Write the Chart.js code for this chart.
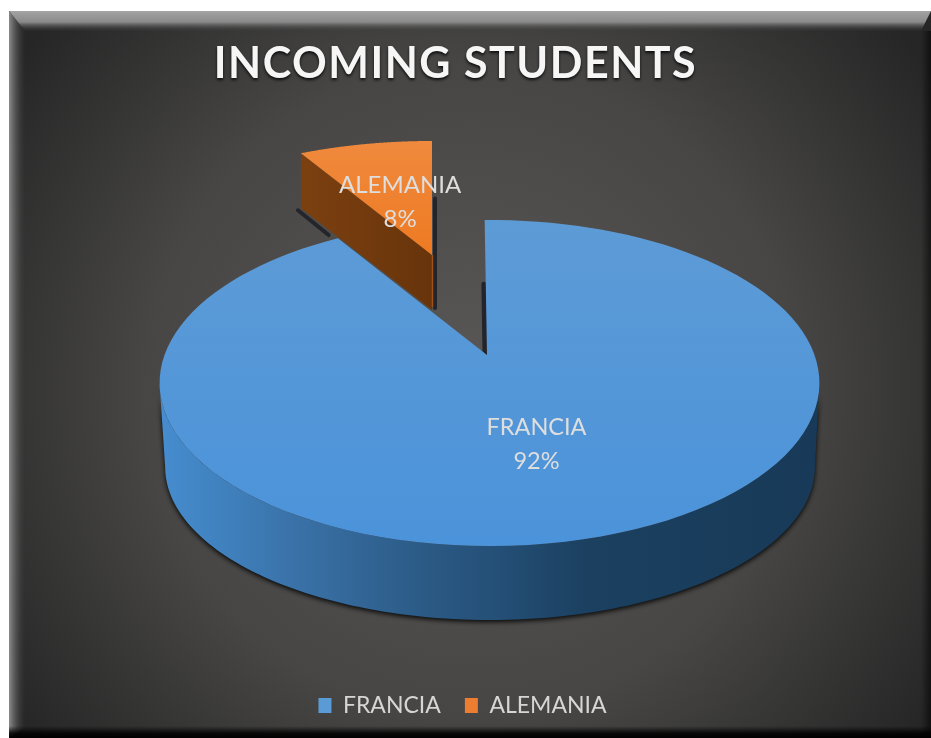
<!DOCTYPE html>
<html>
<head>
<meta charset="utf-8">
<style>
html,body{margin:0;padding:0;background:#fff;}
canvas{display:block;filter:blur(0.6px);}
</style>
<script src="https://cdn.jsdelivr.net/npm/chart.js@4/dist/chart.umd.min.js"></script>
</head>
<body>
<canvas id="c" width="931" height="738"></canvas>
<script>
const titleText = 'INCOMING STUDENTS';
const categories = ['FRANCIA', 'ALEMANIA'];
const shares = [92, 8];
const sliceColors = ['#5b9bd5', '#ed7d31'];

// View of the disc: perspective from the unit circle to the screen.
const tilt = 0.1718;
const faceView = {x0: 489.5, y0: 355, a: 325, b: 158.2, k: tilt};
const floorView = {x0: 490, y0: 440.7, a: 320, b: 148.5, k: tilt};
const apexFrancia = [487, 355];
const explodedView = {x0: 432, y0: 255, a: 313, b: 133.6, k: tilt};
const explodedDepth = 55;
const labelRadius = [0.53, 0.44];
const viewStart = -1 * Math.PI / 180;
const viewFactor = 0.9925;

function project(theta, r, P) {
  const u = r * Math.sin(theta), v = -r * Math.cos(theta), d = 1 - P.k * v;
  return [P.x0 + P.a * u / d, P.y0 + P.b * v / d];
}
function rimPath(ctx, t0, t1, P, first, dy) {
  const n = 120;
  for (let i = 0; i <= n; i++) {
    const p = project(t0 + (t1 - t0) * i / n, 1, P);
    if (i === 0 && first) ctx.moveTo(p[0], p[1] + (dy || 0));
    else ctx.lineTo(p[0], p[1] + (dy || 0));
  }
}

class PerspectiveArc extends Chart.ArcElement {
  draw(ctx) {
    const idx = this.$context.dataIndex;
    const t0 = this.startAngle + Math.PI / 2;
    const t1 = this.endAngle + Math.PI / 2;
    ctx.save();
    if (idx === 0) {
      const w0 = 100 * Math.PI / 180, w1 = 260 * Math.PI / 180;
      const g = ctx.createLinearGradient(163, 0, 817, 0);
      g.addColorStop(0, '#468cce');
      g.addColorStop(0.1, '#3f80bc');
      g.addColorStop(0.2, '#3a72a8');
      g.addColorStop(0.4, '#2b5a85');
      g.addColorStop(0.5, '#255078');
      g.addColorStop(0.65, '#1b4060');
      g.addColorStop(1, '#183a58');
      ctx.save();
      ctx.shadowColor = 'rgba(0,0,0,0.9)';
      ctx.shadowBlur = 5;
      ctx.shadowOffsetY = 2;
      ctx.fillStyle = g;
      ctx.beginPath();
      rimPath(ctx, w0, w1, faceView, true);
      rimPath(ctx, w1, w0, floorView, false);
      ctx.closePath();
      ctx.fill();
      ctx.restore();
      const f = ctx.createLinearGradient(0, 220, 0, 546);
      f.addColorStop(0, '#5d9bd6');
      f.addColorStop(1, '#4b93da');
      ctx.fillStyle = f;
      ctx.beginPath();
      ctx.moveTo(apexFrancia[0], apexFrancia[1]);
      rimPath(ctx, viewStart + (t0) * viewFactor, viewStart + (t1) * viewFactor, faceView, false);
      ctx.closePath();
      ctx.fill();
    } else {
      const P = explodedView;
      const a = project(t0, 1, P);
      const w = ctx.createLinearGradient(a[0], 0, P.x0, 0);
      w.addColorStop(0, '#7c4010');
      w.addColorStop(1, '#68340b');
      ctx.fillStyle = w;
      ctx.beginPath();
      ctx.moveTo(a[0], a[1]);
      ctx.lineTo(P.x0, P.y0);
      ctx.lineTo(P.x0, P.y0 + explodedDepth);
      ctx.lineTo(a[0], a[1] + explodedDepth);
      ctx.closePath();
      ctx.fill();
      ctx.strokeStyle = '#9c5218';
      ctx.lineWidth = 1.5;
      ctx.beginPath();
      ctx.moveTo(P.x0 + 0.5, P.y0);
      ctx.lineTo(P.x0 + 0.5, P.y0 + explodedDepth - 3);
      ctx.stroke();
      const f = ctx.createLinearGradient(0, a[1] - 15, 0, P.y0);
      f.addColorStop(0, '#f08a3e');
      f.addColorStop(1, '#ee7a22');
      ctx.fillStyle = f;
      ctx.beginPath();
      ctx.moveTo(P.x0, P.y0);
      rimPath(ctx, t0, t1, P, false);
      ctx.closePath();
      ctx.fill();
    }
    ctx.restore();
  }
}
PerspectiveArc.id = 'perspectiveArc';
PerspectiveArc.defaults = Chart.ArcElement.defaults;
PerspectiveArc.defaultRoutes = Chart.ArcElement.defaultRoutes;
PerspectiveArc.descriptors = Chart.ArcElement.descriptors;

class Pie3DController extends Chart.PieController {}
Pie3DController.id = 'pie3d';
Pie3DController.defaults = {dataElementType: 'perspectiveArc'};
Chart.register(PerspectiveArc, Pie3DController);

const panelPlugin = {
  id: 'panel',
  beforeDraw(chart) {
    const c = chart.ctx, W = chart.width, H = chart.height;
    const L = 9, T = 11, B = 738, R = 931;
    c.save();
    c.fillStyle = '#ffffff';
    c.fillRect(0, 0, W, H);
    const rg = c.createRadialGradient(470, 390, 40, 470, 390, 560);
    rg.addColorStop(0, '#585654');
    rg.addColorStop(0.55, '#474645');
    rg.addColorStop(1, '#262626');
    c.fillStyle = rg;
    c.fillRect(L, T, R - L, B - T);
    // bevel
    const tg = c.createLinearGradient(0, T, 0, 31);
    tg.addColorStop(0, '#a4a4a4');
    tg.addColorStop(0.55, '#8a8a8a');
    tg.addColorStop(1, 'rgba(60,60,60,0.1)');
    c.fillStyle = tg;
    c.beginPath();
    c.moveTo(L, T); c.lineTo(R, T); c.lineTo(R - 10, 31); c.lineTo(L + 16, 31); c.closePath();
    c.fill();
    const lg = c.createLinearGradient(L, 0, L + 16, 0);
    lg.addColorStop(0, '#8c8c8c');
    lg.addColorStop(1, 'rgba(60,60,60,0.05)');
    c.fillStyle = lg;
    c.beginPath();
    c.moveTo(L, T); c.lineTo(L + 16, 31); c.lineTo(L + 16, B - 10); c.lineTo(L, B); c.closePath();
    c.fill();
    const bg = c.createLinearGradient(0, 726, 0, B);
    bg.addColorStop(0, 'rgba(0,0,0,0)');
    bg.addColorStop(0.6, 'rgba(0,0,0,0.85)');
    bg.addColorStop(1, '#000');
    c.fillStyle = bg;
    c.fillRect(L, 726, R - L, B - 726);
    const rb = c.createLinearGradient(R - 10, 0, R, 0);
    rb.addColorStop(0, 'rgba(0,0,0,0)');
    rb.addColorStop(1, 'rgba(0,0,0,0.55)');
    c.fillStyle = rb;
    c.fillRect(R - 10, 31, 10, B - 31);
    c.restore();
  },
  beforeDatasetsDraw(chart) {
    const c = chart.ctx;
    const arcs = chart.getDatasetMeta(0).data;
    const t = arcs[1].startAngle + Math.PI / 2;
    const P = explodedView;
    const a = project(t, 1, P), m = project(t, 0.74, P);
    const up = project(0, 0.5, P);
    const fa = project(viewStart, 0.5, faceView);
    c.save();
    c.strokeStyle = '#23252a';
    c.lineCap = 'round';
    c.lineWidth = 4;
    c.beginPath();
    c.moveTo(a[0] - 3, a[1] + explodedDepth + 2);
    c.lineTo(m[0] - 3, m[1] + explodedDepth + 3);
    c.stroke();
    c.beginPath();
    c.moveTo(up[0] + 3, up[1] + 5);
    c.lineTo(P.x0 + 3, P.y0 + explodedDepth - 2);
    c.stroke();
    c.lineWidth = 5;
    c.beginPath();
    c.moveTo(fa[0] - 3, fa[1] + 2);
    c.lineTo(apexFrancia[0] - 2, apexFrancia[1] - 2);
    c.stroke();
    c.restore();
  }
};

const sliceLabels = {
  id: 'sliceLabels',
  afterDatasetsDraw(chart) {
    const c = chart.ctx, arcs = chart.getDatasetMeta(0).data;
    const total = shares.reduce((s, v) => s + v, 0);
    const views = [faceView, explodedView];
    c.save();
    c.fillStyle = '#dedede';
    c.textAlign = 'center';
    c.textBaseline = 'middle';
    const sizes = [23.5, 24];
    arcs.forEach((arc, i) => {
      c.font = sizes[i] + 'px Lato';
      const mid = (arc.startAngle + arc.endAngle) / 2 + Math.PI / 2;
      const p = project(mid, labelRadius[i], views[i]);
      c.fillText(categories[i], p[0], p[1] - 17);
      c.fillText(Math.round(shares[i] / total * 100) + '%', p[0], p[1] + 17);
    });
    c.restore();
  }
};

const chart = new Chart(document.getElementById('c'), {
  type: 'pie3d',
  data: {
    labels: categories,
    datasets: [{data: shares, backgroundColor: sliceColors, borderWidth: 0}]
  },
  plugins: [panelPlugin, sliceLabels],
  options: {
    responsive: false,
    animation: false,
    layout: {padding: {top: 34, bottom: 11, left: 0, right: 6}},
    plugins: {
      title: {
        display: true,
        text: titleText,
        color: '#f6f6f6',
        font: {family: 'Lato', size: 43, weight: 'bold'},
        padding: {top: 4, bottom: 10}
      },
      legend: {
        display: true,
        position: 'bottom',
        labels: {
          color: '#d6d6d6',
          font: {family: 'Lato', size: 23},
          boxWidth: 13,
          boxHeight: 15,
          padding: 24
        }
      },
      tooltip: {enabled: false}
    }
  }
});

// Title: spaced capitals with a soft dark shadow, centred a little left of the panel.
const drawTitle = chart.titleBlock.draw.bind(chart.titleBlock);
chart.titleBlock.draw = function () {
  const c = chart.ctx;
  c.save();
  c.letterSpacing = '1.5px';
  c.shadowColor = 'rgba(0,0,0,0.8)';
  c.shadowBlur = 3;
  c.shadowOffsetY = 2;
  c.translate(-7, 0);
  drawTitle();
  c.restore();
};
chart.draw();
</script>
</body>
</html>
